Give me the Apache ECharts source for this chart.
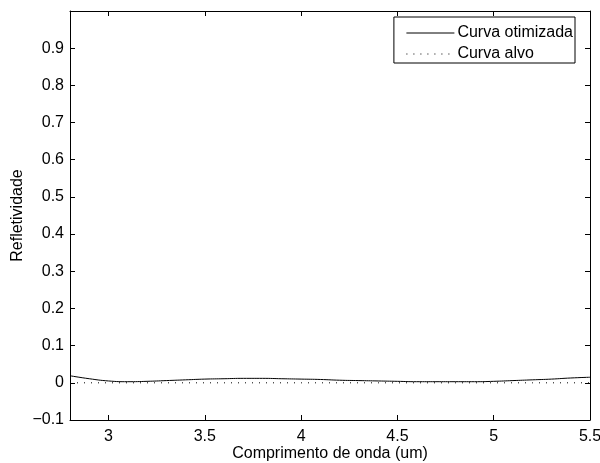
<!DOCTYPE html>
<html><head><meta charset="utf-8">
<script src="https://cdn.jsdelivr.net/npm/echarts@6/dist/echarts.min.js"></script>
<style>html,body{margin:0;padding:0;background:#fff}#c{width:600px;height:463px}</style>
</head><body><div id="c"></div>
<script>
const wavelength = [2.8,2.9,3.0,3.1,3.2,3.3,3.4,3.5,3.6,3.7,3.8,3.9,4.0,4.1,4.2,4.3,4.4,4.5,4.6,4.7,4.8,4.9,5.0,5.1,5.2,5.3,5.4,5.5];
const curvaOtimizada = [0.019,0.011,0.005,0.003,0.004,0.006,0.008,0.010,0.011,0.012,0.012,0.011,0.010,0.009,0.007,0.006,0.005,0.004,0.003,0.003,0.003,0.003,0.004,0.006,0.008,0.010,0.013,0.015];
const curvaAlvo = [0,0,0,0,0,0,0,0,0,0,0,0,0,0,0,0,0,0,0,0,0,0,0,0,0,0,0,0];
const xTicks = [3,3.5,4,4.5,5,5.5];
const yTicks = [-0.1,0,0.1,0.2,0.3,0.4,0.5,0.6,0.7,0.8,0.9,1.0];

const FONT = 'Liberation Sans, Arial, Helvetica, sans-serif';
const FS = 16;
const chart = echarts.init(document.getElementById('c'), null, {renderer:'canvas'});
const axisLine = {show:true, onZero:false, lineStyle:{color:'#000', width:1}};
const tick = {show:true, inside:true, length:5, lineStyle:{color:'#000', width:1}};
const fmtY = v => { const r = Math.round(v*10)/10; if (r >= 0.99) return ''; return r < 0 ? '\u2212' + String(-r) : String(r); };
chart.setOption({
  animation:false,
  backgroundColor:'#fff',
  grid:{left:70, right:10, top:11, bottom:43, containLabel:false, outerBoundsMode:'none'},
  legend:{
    orient:'vertical', right:25, top:17,
    itemWidth:48, itemHeight:14, itemGap:5,
    padding:[8,2,1,12],
    borderColor:'#000', borderWidth:1, backgroundColor:'#fff',
    itemStyle:{opacity:0},
    lineStyle:{width:1},
    textStyle:{fontFamily:FONT, fontSize:FS, color:'#000', padding:[0,0,0,-2]},
    data:['Curva otimizada','Curva alvo']
  },
  xAxis:[{
    type:'value', min:2.8, max:5.5, position:'bottom',
    name:'Comprimento de onda (um)', nameLocation:'middle', nameGap:26, nameMoveOverlap:false,
    nameTextStyle:{fontFamily:FONT, fontSize:FS, color:'#000'},
    axisLine, splitLine:{show:false},
    axisTick:Object.assign({customValues:xTicks}, tick),
    axisLabel:{customValues:xTicks, fontFamily:FONT, fontSize:FS, color:'#000', margin:9, formatter:v=>String(v)}
  },{
    type:'value', min:2.8, max:5.5, position:'top',
    axisLine, splitLine:{show:false},
    axisTick:Object.assign({customValues:xTicks}, tick),
    axisLabel:{show:false}
  }],
  yAxis:[{
    type:'value', min:-0.1, max:1.0, interval:0.1, position:'left',
    name:'Refletividade', nameLocation:'middle', nameGap:44, nameRotate:90, nameMoveOverlap:false,
    nameTextStyle:{fontFamily:FONT, fontSize:FS, color:'#000'},
    axisLine, splitLine:{show:false}, axisTick:tick,
    axisLabel:{fontFamily:FONT, fontSize:FS, color:'#000', margin:6, formatter:fmtY}
  },{
    type:'value', min:-0.1, max:1.0, interval:0.1, position:'right',
    axisLine, splitLine:{show:false}, axisTick:tick, axisLabel:{show:false}
  }],
  series:[{
    name:'Curva otimizada', type:'line', symbol:'none', smooth:true,
    xAxisIndex:0, yAxisIndex:0,
    data:wavelength.map((x,i)=>[x,curvaOtimizada[i]]),
    lineStyle:{color:'#000', width:1}, itemStyle:{color:'#000'}
  },{
    name:'Curva alvo', type:'line', symbol:'none',
    xAxisIndex:0, yAxisIndex:0,
    data:wavelength.map((x,i)=>[x,curvaAlvo[i]]),
    lineStyle:{color:'#000', width:1, type:[1,6]}, itemStyle:{color:'#000'}
  }]
});
</script></body></html>
